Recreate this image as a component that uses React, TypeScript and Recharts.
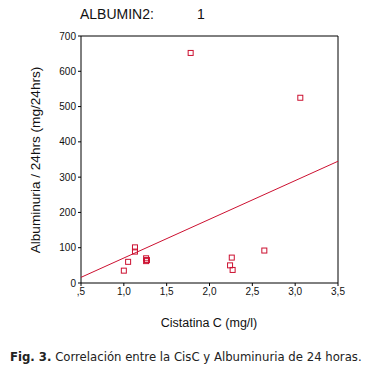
import React from 'react';
import { ComposedChart, Scatter, XAxis, YAxis, ReferenceLine } from 'recharts';

const cistatina = [1.0, 1.05, 1.13, 1.13, 1.26, 1.27, 1.26, 1.78, 2.24, 2.26, 2.27, 2.64, 3.06];
const albuminuria = [35, 60, 101, 89, 70, 65, 62, 652, 50, 72, 37, 92, 525];
const fitX = [0.5, 3.5];
const fitY = [16, 345];
const xTicks = [0.5, 1.0, 1.5, 2.0, 2.5, 3.0, 3.5];
const yTicks = [0, 100, 200, 300, 400, 500, 600, 700];

const points = cistatina.map((x, i) => ({ x, y: albuminuria[i] }));
const fitLine = fitX.map((x, i) => ({ x, y: fitY[i] }));

const RED = '#cc1030';

const Square = (props: any) => {
  const { cx, cy } = props;
  if (cx == null || cy == null) return null;
  return <rect x={cx - 2.5} y={cy - 2.5} width={5} height={5} fill="none" stroke={RED} strokeWidth={1} />;
};

const fmtX = (v: number) => {
  if (v === 0.5) return ',5';
  return v.toFixed(1).replace('.', ',');
};

export default function App() {
  return (
    <div style={{ position: 'absolute', left: 0, top: 0, width: 369, height: 378, background: '#fff', fontFamily: 'Liberation Sans, Arial, sans-serif' }}>
      <div style={{ position: 'absolute', left: 80, top: 6, fontSize: 14, color: '#111', whiteSpace: 'pre' }}>ALBUMIN2:</div>
      <div style={{ position: 'absolute', left: 197, top: 6, fontSize: 14, color: '#111' }}>1</div>
      <ComposedChart width={369} height={378} margin={{ left: 31, right: 31, top: 36, bottom: 75 }}>
        <XAxis
          type="number"
          dataKey="x"
          domain={[0.5, 3.5]}
          ticks={xTicks}
          tickFormatter={fmtX}
          height={20}
          stroke="#000"
          tickSize={3}
          tick={{ fontSize: 10, fill: '#111' }}
          allowDataOverflow
        />
        <YAxis
          type="number"
          dataKey="y"
          domain={[0, 700]}
          ticks={yTicks}
          width={50}
          stroke="#000"
          tickSize={3}
          tick={{ fontSize: 10, fill: '#111' }}
          allowDataOverflow
        />
        <ReferenceLine y={700} stroke="#000" strokeWidth={1} />
        <ReferenceLine x={3.5} stroke="#000" strokeWidth={1} />
        <Scatter data={fitLine} line={{ stroke: RED, strokeWidth: 1 }} shape={() => null} isAnimationActive={false} />
        <Scatter data={points} shape={<Square />} isAnimationActive={false} />
      </ComposedChart>
      <div style={{ position: 'absolute', left: 35, top: 160, width: 0, height: 0 }}>
        <div style={{ position: 'absolute', transform: 'translate(-50%, -50%) rotate(-90deg)', fontSize: 13.6, whiteSpace: 'nowrap', color: '#111' }}>
          Albuminuria / 24hrs (mg/24hrs)
        </div>
      </div>
      <div style={{ position: 'absolute', left: 209, top: 323, width: 0, height: 0 }}>
        <div style={{ position: 'absolute', transform: 'translate(-50%, -50%)', fontSize: 12.5, whiteSpace: 'nowrap', color: '#111' }}>
          Cistatina C (mg/l)
        </div>
      </div>
      <div style={{ position: 'absolute', left: 10, top: 350, fontFamily: 'DejaVu Sans, Verdana, sans-serif', fontSize: 11.7, whiteSpace: 'nowrap', color: '#222' }}>
        <b>Fig. 3.</b> Correlación entre la CisC y Albuminuria de 24 horas.
      </div>
    </div>
  );
}
